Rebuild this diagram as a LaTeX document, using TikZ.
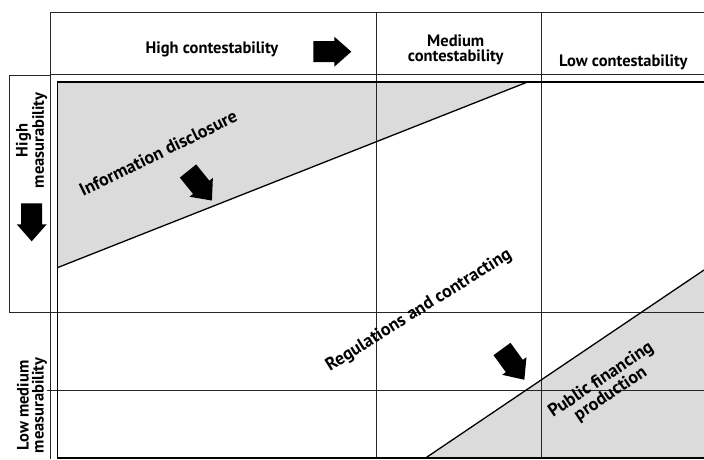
\documentclass[tikz,border=0pt]{standalone}
\usepackage{fontspec}
\setmainfont{PT Sans}

\tikzset{
  gridline/.style={line width=0.8pt, black!85},
  frame/.style={line width=1.6pt},
  cut/.style={line width=1.3pt},
  lbl/.style={font=\bfseries\fontsize{16.5}{15}\selectfont, align=center, inner sep=0pt},
  slantlbl/.style={lbl, font=\bfseries\fontsize{18}{17}\selectfont},
  fatarrow/.pic={\fill (0,-10.5) -- (21,-10.5) -- (21,-15) -- (38,0) -- (21,15) -- (21,10.5) -- (0,10.5) -- cycle;}
}

\begin{document}
\begin{tikzpicture}[x=1pt,y=-1pt]
	\useasboundingbox (0,0) rectangle (704,459);
	% shaded areas
	\fill[black!14] (57.3,81.7) -- (528.3,81.7) -- (57.3,267.7) -- cycle;
	\fill[black!14] (426,457.7) -- (704,270) -- (704,457.7) -- cycle;
	% grid
	\draw[gridline] (704,12.7) -- (50.7,12.7) -- (50.7,459);
	\draw[gridline] (50.7,74) -- (704,74);
	\draw[gridline] (50.7,75) -- (9,75) -- (9,312.7) -- (704,312.7);
	\draw[gridline] (46.7,390) -- (704,390);
	\draw[gridline] (376.7,12.7) -- (376.7,459);
	\draw[gridline] (541.7,12.7) -- (541.7,459);
	% frame and cuts
	\draw[frame] (704,81.7) -- (57.3,81.7) -- (57.3,457.7) -- (704,457.7);
	\draw[cut] (57.3,267.7) -- (528.3,81.7);
	\draw[cut] (426,457.7) -- (704,270);
	% labels
	\node[lbl, anchor=base] (highc) at (212,53.5) {High contestability};
	\node[lbl] (medc) at (455.7,49.5) {Medium\\contestability};
	\node[lbl, anchor=base] (lowc) at (623.3,66.5) {Low contestability};
	\node[lbl, rotate=90] (highm) at (31.5,140.5) {High\\measurability};
	\node[lbl, rotate=90] (lowm) at (32,405.5) {Low medium\\measurability};
	\node[slantlbl, rotate=26, anchor=base west] (info) at (83,196.7) {Information disclosure};
	\node[slantlbl, rotate=32, anchor=base west] (reg) at (330,371.5) {Regulations and contracting};
	\node[slantlbl, rotate=34] (pub) at (606,387) {Public financing\\production};
	% arrows
	\pic at (313.3,51.7) {fatarrow};
	\pic[rotate=-90] at (31.7,203.3) {fatarrow};
	\pic[rotate=-51] at (188,171) {fatarrow};
	\pic[rotate=-54] at (502,349) {fatarrow};
\end{tikzpicture}
\end{document}
